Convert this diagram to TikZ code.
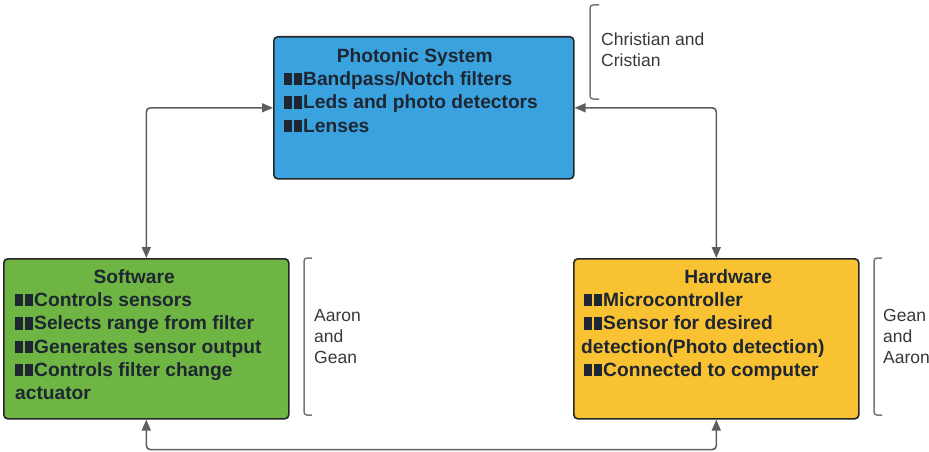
\documentclass[tikz,border=0pt]{standalone}
\usepackage{fontspec}
\setmainfont{Liberation Sans}
\usetikzlibrary{positioning,arrows.meta}

\definecolor{photonblue}{HTML}{3AA3DF}
\definecolor{softgreen}{HTML}{6FB543}
\definecolor{hardyellow}{HTML}{F9C233}
\definecolor{linegray}{HTML}{5E5E5E}
\definecolor{boxtext}{HTML}{1E2632}

\newcommand{\blt}{\rule{7.5pt}{12.5pt}\hspace{2.5pt}\rule{7.5pt}{12.5pt}\hspace{1.5pt}}

\tikzset{
	unit/.style={draw=black!85,line width=1.6pt,rounded corners=4pt,anchor=north west,inner sep=0pt},
	unittext/.style={anchor=north west,inner sep=0pt,align=left,text=boxtext,
		font=\bfseries\fontsize{19.2}{23.3}\selectfont},
	crew/.style={anchor=north west,inner sep=0pt,align=left,text=black!78,
		font=\fontsize{17.5}{21}\selectfont},
	link/.style={draw=linegray,line width=1.6pt,rounded corners=4pt,
		{Triangle[length=11pt,width=9pt]}-{Triangle[length=11pt,width=9pt]}},
	brace/.style={draw=linegray!85,line width=1.5pt,rounded corners=3pt}
}

\begin{document}
\begin{tikzpicture}[x=1pt,y=-1pt]

\useasboundingbox (0,0) rectangle (929,452);

% boxes
\node [unit,fill=photonblue,minimum width=300pt,minimum height=142pt] at (273,36) (photonic) {};
\node [unit,fill=softgreen,minimum width=285pt,minimum height=160pt] at (3,258) (software) {};
\node [unit,fill=hardyellow,minimum width=285pt,minimum height=160pt] at (573,258) (hardware) {};

% box texts
\node [unittext] at (284,48) (photonictext) {\makebox[261pt]{Photonic System}\\
	\blt Bandpass/Notch filters\\
	\blt Leds and photo detectors\\
	\blt Lenses};

\node [unittext] at (15,269) (softwaretext) {\makebox[238pt]{Software}\\
	\blt Controls sensors\\
	\blt Selects range from filter\\
	\blt Generates sensor output\\
	\blt Controls filter change\\
	actuator};

\node [unittext] at (581,269) (hardwaretext) {\makebox[294pt]{Hardware}\\
	\hspace{3pt}\blt Microcontroller\\
	\hspace{3pt}\blt Sensor for desired\\
	detection(Photo detection)\\
	\hspace{3pt}\blt Connected to computer};

% connectors
\draw [link] (software.north) |- (photonic.west);
\draw [link] (photonic.east) -| (hardware.north);
\draw [link] (software.south) -- ++(0,30) -| (hardware.south);

%%%%%%%%%%%%%%%%%%%%%%%%%%%%%%%%%%%%%%%%%%%%%%%%%%%%%%%%%%%%%%%%

% team brackets
\draw [brace] (599,5) -- (590,5) -- (590,99) -- (599,99);
\node [crew] at (601,32.5) (photoniccrew) {Christian and\\Cristian};

\draw [brace] (312,258) -- (304,258) -- (304,415) -- (312,415);
\node [crew] at (314,309.5) (softwarecrew) {Aaron\\and\\Gean};

\draw [brace] (882,258) -- (874,258) -- (874,415) -- (882,415);
\node [crew] at (883,309.5) (hardwarecrew) {Gean\\and\\Aaron};

\end{tikzpicture}
\end{document}
